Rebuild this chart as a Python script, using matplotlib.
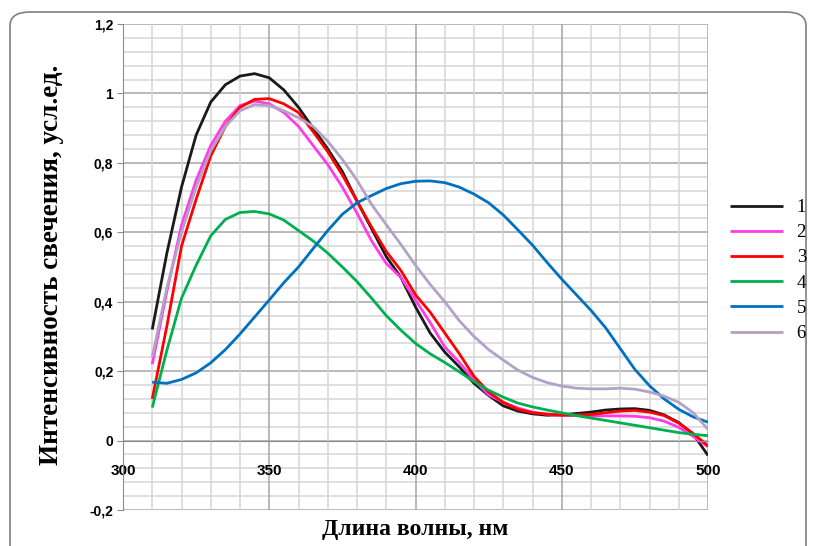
import matplotlib.pyplot as plt
from matplotlib.patches import FancyBboxPatch
from matplotlib.ticker import MultipleLocator, FuncFormatter

# wavelength grid, nm
wl = [310, 315, 320, 325, 330, 335, 340, 345, 350, 355,
      360, 365, 370, 375, 380, 385, 390, 395, 400, 405,
      410, 415, 420, 425, 430, 435, 440, 445, 450, 455,
      460, 465, 470, 475, 480, 485, 490, 495, 500]

s1 = [0.32, 0.54, 0.73, 0.88, 0.975, 1.025, 1.05, 1.057, 1.045, 1.01,
      0.96, 0.90, 0.84, 0.775, 0.69, 0.61, 0.53, 0.47, 0.385, 0.31,
      0.255, 0.212, 0.165, 0.13, 0.10, 0.085, 0.077, 0.073, 0.074, 0.078,
      0.082, 0.088, 0.091, 0.092, 0.087, 0.074, 0.052, 0.018, -0.043]
s2 = [0.22, 0.43, 0.62, 0.75, 0.85, 0.92, 0.965, 0.978, 0.97, 0.945,
      0.905, 0.85, 0.795, 0.73, 0.655, 0.575, 0.51, 0.47, 0.405, 0.34,
      0.27, 0.225, 0.175, 0.132, 0.11, 0.094, 0.082, 0.076, 0.073, 0.072,
      0.071, 0.071, 0.071, 0.070, 0.066, 0.056, 0.038, 0.012, -0.018]
s3 = [0.12, 0.33, 0.56, 0.695, 0.82, 0.905, 0.96, 0.983, 0.985, 0.97,
      0.945, 0.89, 0.832, 0.765, 0.69, 0.615, 0.545, 0.49, 0.42, 0.37,
      0.31, 0.25, 0.185, 0.14, 0.11, 0.09, 0.08, 0.076, 0.073, 0.074,
      0.075, 0.08, 0.085, 0.087, 0.082, 0.072, 0.05, 0.02, -0.015]
s4 = [0.095, 0.26, 0.41, 0.505, 0.59, 0.637, 0.657, 0.66, 0.653, 0.635,
      0.605, 0.575, 0.54, 0.50, 0.458, 0.41, 0.36, 0.318, 0.28, 0.25,
      0.225, 0.198, 0.17, 0.145, 0.125, 0.108, 0.097, 0.088, 0.08, 0.072,
      0.065, 0.058, 0.051, 0.044, 0.037, 0.03, 0.023, 0.018, 0.014]
s5 = [0.168, 0.165, 0.176, 0.195, 0.224, 0.262, 0.307, 0.356, 0.405, 0.455,
      0.50, 0.553, 0.605, 0.652, 0.685, 0.706, 0.726, 0.74, 0.747, 0.748,
      0.743, 0.73, 0.71, 0.685, 0.65, 0.607, 0.563, 0.513, 0.465, 0.42,
      0.375, 0.325, 0.265, 0.205, 0.158, 0.12, 0.09, 0.068, 0.053]
s6 = [0.24, 0.44, 0.60, 0.73, 0.835, 0.905, 0.95, 0.968, 0.965, 0.95,
      0.93, 0.905, 0.862, 0.81, 0.75, 0.68, 0.622, 0.565, 0.505, 0.45,
      0.40, 0.345, 0.30, 0.262, 0.232, 0.203, 0.182, 0.167, 0.157, 0.151,
      0.149, 0.149, 0.151, 0.148, 0.14, 0.128, 0.11, 0.08, 0.032]

series = [s1, s2, s3, s4, s5, s6]
labels = ["1", "2", "3", "4", "5", "6"]
colors = ["#1a1a1a", "#ff3ce6", "#ff0000", "#00b050", "#0070c0", "#b3a2c7"]

fig = plt.figure(figsize=(8.13, 5.46), dpi=100)

# rounded chart frame, kept behind the axes
frame = FancyBboxPatch((10 / 813, -0.05), 796 / 813, 1 - 12 / 546 + 0.05,
                       boxstyle="round,pad=0,rounding_size=0.025",
                       transform=fig.transFigure, facecolor="none",
                       edgecolor="#7f7f7f", linewidth=1.2, zorder=-1)
fig.patches.append(frame)

ax = fig.add_axes([123 / 813, 1 - 510 / 546, 585 / 813, 486 / 546])
ax.set_facecolor("none")

for ys, lab, c in zip(series, labels, colors):
    ax.plot(wl, ys, color=c, lw=2.0, label=lab,
            solid_capstyle="butt", solid_joinstyle="round")

ax.set_xlim(300, 500)
ax.set_ylim(-0.2, 1.2)
ax.xaxis.set_major_locator(MultipleLocator(50))
ax.xaxis.set_minor_locator(MultipleLocator(10))
ax.yaxis.set_major_locator(MultipleLocator(0.2))
ax.yaxis.set_minor_locator(MultipleLocator(0.04))
ax.grid(True, which="major", color="#a6a6a6", lw=1.1)
ax.grid(True, which="minor", color="#d6d6d6", lw=1.1)
ax.set_axisbelow(True)
# x labels sit below the zero line, over the horizontal grid
ax.xaxis.set_zorder(0.6)

ax.yaxis.set_major_formatter(FuncFormatter(
    lambda v, p: "0" if abs(v) < 1e-9 else ("%g" % round(v, 1)).replace(".", ",")))

for s in ["top", "right"]:
    ax.spines[s].set_visible(False)
ax.spines["bottom"].set_position(("data", 0))
ax.spines["bottom"].set_color("#8c8c8c")
ax.spines["left"].set_color("#8c8c8c")

ax.tick_params(axis="x", which="both", length=0, pad=17,
               labelsize=11, labelcolor="black")
ax.tick_params(axis="y", which="major", length=4, color="#8c8c8c",
               labelsize=10, pad=3)
ax.tick_params(axis="y", which="minor", length=0)
for t in ax.get_xticklabels() + ax.get_yticklabels():
    t.set_fontfamily("Liberation Sans")
    t.set_fontweight("bold")

fig.text(52 / 813, 1 - 265 / 546, "Интенсивность свечения, усл.ед.",
         family="Liberation Serif", fontweight="bold", fontsize=19.5,
         rotation=90, ha="center", va="center")
fig.text(415 / 813, 1 - 529 / 546, "Длина волны, нм", family="Liberation Serif",
         fontweight="bold", fontsize=17, ha="center", va="center")

fig.legend(loc="upper left", bbox_to_anchor=(730 / 813, 1 - 199 / 546),
           frameon=False, prop={"family": "Liberation Serif", "size": 13.5},
           handlelength=2.8, handletextpad=0.75, labelspacing=0.43,
           borderpad=0, borderaxespad=0)

fig.savefig("out.png", dpi=100)
